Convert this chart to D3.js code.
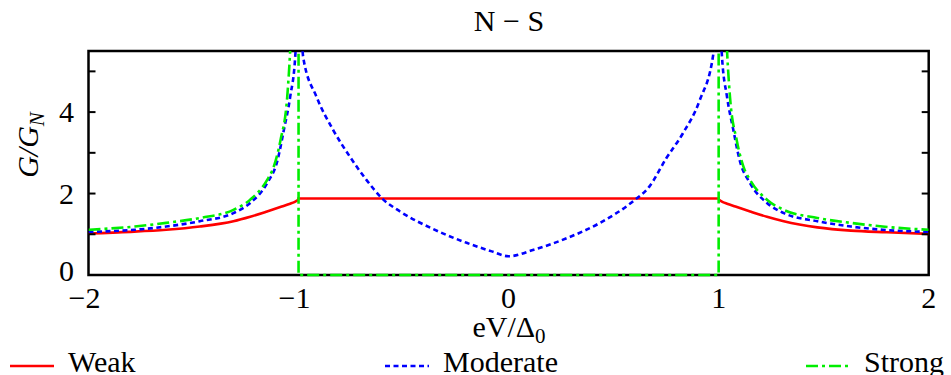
<!DOCTYPE html>
<html><head><meta charset="utf-8">
<script src="https://cdn.jsdelivr.net/npm/d3@7"></script>
<style>body{margin:0;background:#fff}svg{display:block}svg text{font-family:"Liberation Serif","DejaVu Serif",serif !important}</style>
</head><body><svg id="c" width="951" height="375"></svg>
<script>
// ---- data ----
const title = "N − S";
const xTicks = [-2, -1, 0, 1, 2];
const yTickMarks = [1, 2, 3, 4, 5];
const yTickLabels = [0, 2, 4];
const seriesNames = ["Weak", "Moderate", "Strong"];

const weakLeftX = [-2, -1.8, -1.63, -1.47, -1.31, -1.23, -1.15, -1.08, -1.04, -1.02, -1.0];
const weakLeftY = [1.02, 1.06, 1.11, 1.19, 1.32, 1.43, 1.56, 1.68, 1.75, 1.79, 1.85];
const weakGapX = [-1.0, 1.0];
const weakGapY = [1.88, 1.88];
const weakRightX = [1.0, 1.02, 1.04, 1.08, 1.15, 1.23, 1.31, 1.47, 1.63, 1.8, 2];
const weakRightY = [1.85, 1.79, 1.75, 1.68, 1.56, 1.43, 1.32, 1.17, 1.09, 1.05, 1.01];

const modLeftX = [-2, -1.78, -1.63, -1.47, -1.31, -1.23, -1.15, -1.10, -1.07, -1.04, -1.015, -1.004];
const modLeftY = [1.06, 1.11, 1.19, 1.32, 1.52, 1.77, 2.25, 2.82, 3.56, 4.37, 5.43, 8];
const modInX = [-0.996, -0.978, -0.914, -0.835, -0.755, -0.676, -0.6, -0.517, -0.36, -0.2, -0.08, 0, 0.12, 0.28, 0.435, 0.59, 0.67, 0.75, 0.83, 0.91, 0.975, 0.996];
const modInY = [8, 5.35, 4.37, 3.56, 2.9, 2.33, 1.87, 1.56, 1.13, 0.79, 0.58, 0.46, 0.62, 0.91, 1.28, 1.8, 2.17, 2.86, 3.48, 4.29, 5.44, 8];
const modRightX = [1.004, 1.015, 1.04, 1.07, 1.10, 1.15, 1.23, 1.31, 1.47, 1.63, 1.78, 2];
const modRightY = [8, 5.43, 4.37, 3.56, 2.82, 2.25, 1.77, 1.52, 1.32, 1.19, 1.11, 1.06];

const strLeftX = [-2, -1.78, -1.63, -1.47, -1.31, -1.23, -1.15, -1.118, -1.086, -1.054, -1.04, -1.015];
const strLeftY = [1.11, 1.19, 1.28, 1.40, 1.60, 1.85, 2.33, 2.66, 3.31, 4.37, 5.5, 9];
const strGapX = [-1, -1, 1, 1];
const strGapY = [6, 0, 0, 6];
const strRightX = [1.015, 1.04, 1.054, 1.086, 1.118, 1.15, 1.23, 1.31, 1.47, 1.63, 1.78, 2];
const strRightY = [9, 5.5, 4.37, 3.31, 2.66, 2.33, 1.85, 1.60, 1.40, 1.28, 1.19, 1.11];

// ---- drawing ----
const svg = d3.select("#c");
const L = 88.5, R = 928.7, T = 51, B = 275;
const x = d3.scaleLinear().domain([-2, 2]).range([L, R]);
const y = d3.scaleLinear().domain([0, 5.5]).range([B, T]);
const colors = ["#ff0000", "#0000ff", "#00ee00"];
const dashes = [null, "5,3.5", "12,4,3,4"];

svg.append("clipPath").attr("id", "clip").append("rect")
  .attr("x", L).attr("y", T).attr("width", R - L).attr("height", B - T + 2);

const zip = (xs, ys) => xs.map((v, i) => [v, ys[i]]);
const smooth = d3.line().x(d => x(d[0])).y(d => y(d[1])).curve(d3.curveMonotoneX);
const straight = d3.line().x(d => x(d[0])).y(d => y(d[1]));

svg.append("rect").attr("x", L).attr("y", T).attr("width", R - L).attr("height", B - T)
  .attr("fill", "none").attr("stroke", "#000").attr("stroke-width", 2.5);

const g = svg.append("g").attr("clip-path", "url(#clip)");

function draw(path, i) {
  g.append("path").attr("d", path).attr("fill", "none")
    .attr("stroke", colors[i]).attr("stroke-width", 2.6)
    .attr("stroke-dasharray", dashes[i]);
}
draw(smooth(zip(weakLeftX, weakLeftY)), 0);
draw(straight(zip([weakLeftX[weakLeftX.length - 1], ...weakGapX, weakRightX[0]], [weakLeftY[weakLeftY.length - 1], ...weakGapY, weakRightY[0]])), 0);
draw(smooth(zip(weakRightX, weakRightY)), 0);
draw(smooth(zip(modLeftX, modLeftY)), 1);
draw(smooth(zip(modInX, modInY)), 1);
draw(smooth(zip(modRightX, modRightY)), 1);
draw(smooth(zip(strLeftX, strLeftY)), 2);
draw(straight(zip(strGapX, strGapY)), 2);
draw(smooth(zip(strRightX, strRightY)), 2);

yTickMarks.forEach(v => {
  svg.append("line").attr("x1", L).attr("x2", L + 7).attr("y1", y(v)).attr("y2", y(v)).attr("stroke", "#000").attr("stroke-width", 2);
  svg.append("line").attr("x1", R - 7).attr("x2", R).attr("y1", y(v)).attr("y2", y(v)).attr("stroke", "#000").attr("stroke-width", 2);
});
yTickLabels.forEach(v => {
  svg.append("text").attr("x", 74).attr("y", y(v) + 10 - (v === 0 ? 4 : 0)).attr("text-anchor", "end")
    .attr("font-size", 30).text(v);
});
xTicks.forEach(v => {
  svg.append("text").attr("x", x(v) + (v < 0 ? -4 : 0)).attr("y", 308).attr("text-anchor", "middle")
    .attr("font-size", 30).text(v < 0 ? "−" + Math.abs(v) : v);
});

svg.append("text").attr("x", 509).attr("y", 31).attr("text-anchor", "middle").attr("font-size", 30).text(title);

const xl = svg.append("text").attr("x", 509).attr("y", 337).attr("text-anchor", "middle").attr("font-size", 30);
xl.append("tspan").text("eV/Δ");
xl.append("tspan").attr("font-size", 21).attr("dy", 6).text("0");

const yl = svg.append("text").attr("transform", "translate(38,145) rotate(-90)").attr("text-anchor", "middle")
  .attr("font-size", 30).attr("font-style", "italic");
yl.append("tspan").text("G/G");
yl.append("tspan").attr("font-size", 21).attr("dy", 6).text("N");

const legX = [10, 385, 806];
seriesNames.forEach((n, i) => {
  svg.append("line").attr("x1", legX[i]).attr("x2", legX[i] + 44).attr("y1", 366).attr("y2", 366)
    .attr("stroke", colors[i]).attr("stroke-width", 2.6).attr("stroke-dasharray", dashes[i]);
  svg.append("text").attr("x", legX[i] + 58).attr("y", 372).attr("font-size", 30).text(n);
});
</script></body></html>
